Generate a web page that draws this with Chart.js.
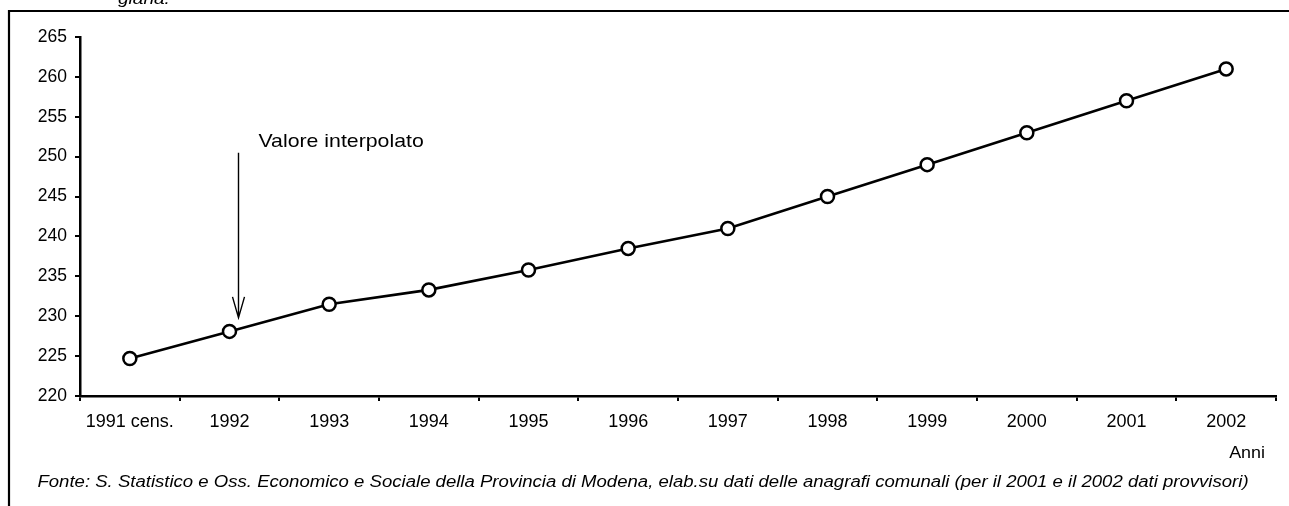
<!DOCTYPE html>
<html><head><meta charset="utf-8">
<script src="https://cdn.jsdelivr.net/npm/chart.js@4.4.1/dist/chart.umd.min.js"></script>
<style>html,body{margin:0;padding:0;background:#fff}#c{display:block}</style>
</head><body>
<canvas id="c" width="1289" height="506"></canvas>
<script>
const categories = ['1991 cens.','1992','1993','1994','1995','1996','1997','1998','1999','2000','2001','2002'];
const values = [224.7, 228.1, 231.5, 233.3, 235.8, 238.5, 241.0, 245.0, 249.0, 253.0, 257.0, 261.0];
const yTicks = [220, 225, 230, 235, 240, 245, 250, 255, 260, 265];
const annotationText = 'Valore interpolato';
const xAxisTitle = 'Anni';
const sourceText = 'Fonte: S. Statistico e Oss. Economico e Sociale della Provincia di Modena, elab.su dati delle anagrafi comunali (per il 2001 e il 2002 dati provvisori)';
const topText = 'giana.';

const FONT = '"Liberation Sans", Arial, sans-serif';

function stretchText(ctx, text, x, y, sx, align) {
  ctx.save();
  ctx.translate(x, y);
  ctx.scale(sx, 1);
  ctx.textAlign = align;
  ctx.fillText(text, 0, 0);
  ctx.restore();
}

const extras = {
  id: 'extras',
  afterDraw(chart) {
    const ctx = chart.ctx;
    const xs = chart.scales.x, ys = chart.scales.y;
    ctx.save();
    // frame
    ctx.strokeStyle = '#000'; ctx.lineWidth = 2.2;
    ctx.beginPath();
    ctx.moveTo(9, 520); ctx.lineTo(9, 11); ctx.lineTo(1300, 11);
    ctx.stroke();
    ctx.fillStyle = '#000';
    ctx.textBaseline = 'alphabetic';
    // clipped top text
    ctx.font = 'italic 17px ' + FONT;
    stretchText(ctx, topText, 118, 4, 1.12, 'left');
    // annotation
    const ax = xs.getPixelForValue(1) + 9;
    ctx.font = '19px ' + FONT;
    stretchText(ctx, annotationText, ax + 20, ys.getPixelForValue(251.2), 1.12, 'left');
    const yTop = ys.getPixelForValue(250.5);
    const yTip = ys.getPixelForValue(229.8);
    ctx.lineWidth = 1.4;
    ctx.beginPath();
    ctx.moveTo(ax, yTop); ctx.lineTo(ax, yTip);
    ctx.moveTo(ax - 6, yTip - 21); ctx.lineTo(ax, yTip); ctx.lineTo(ax + 6, yTip - 21);
    ctx.stroke();
    // axis title
    ctx.font = '16px ' + FONT;
    stretchText(ctx, xAxisTitle, 1265, 458, 1.12, 'right');
    // source
    ctx.font = 'italic 16px ' + FONT;
    stretchText(ctx, sourceText, 643, 487, 1.16, 'center');
    ctx.restore();
  }
};

new Chart(document.getElementById('c'), {
  type: 'line',
  data: {
    labels: categories,
    datasets: [{
      data: values,
      borderColor: '#000',
      borderWidth: 2.6,
      pointRadius: 6.5,
      pointBorderWidth: 2.5,
      pointBackgroundColor: '#fff',
      pointBorderColor: '#000',
      tension: 0,
      fill: false
    }]
  },
  options: {
    responsive: false,
    animation: false,
    events: [],
    layout: { padding: { top: 37, right: 13, left: 0, bottom: 0 } },
    plugins: { legend: { display: false }, tooltip: { enabled: false }, title: { display: false } },
    scales: {
      x: {
        type: 'category',
        offset: true,
        grid: { display: true, drawOnChartArea: false, drawTicks: true, tickLength: 5, offset: true, color: '#000', lineWidth: 2 },
        border: { display: true, color: '#000', width: 2.5 },
        ticks: { color: '#000', font: { family: FONT, size: 18 }, padding: 10, maxRotation: 0, autoSkip: false },
        afterFit(s) { s.height = 110; }
      },
      y: {
        min: 220, max: 265,
        afterBuildTicks(s) { s.ticks = yTicks.map(v => ({ value: v })); },
        grid: { display: true, drawOnChartArea: false, drawTicks: true, tickLength: 5, color: '#000', lineWidth: 2 },
        border: { display: true, color: '#000', width: 2.5 },
        ticks: { color: '#000', font: { family: FONT, size: 17.5 }, padding: 8 },
        afterFit(s) { s.width = 80; }
      }
    }
  },
  plugins: [extras]
});
</script>
</body></html>
